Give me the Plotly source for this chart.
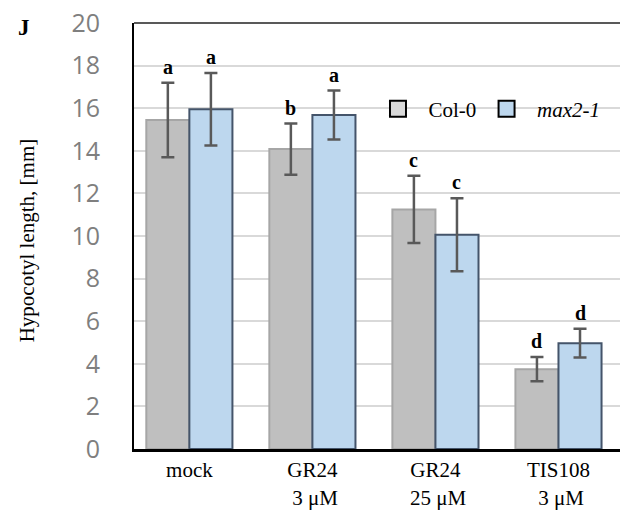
import plotly.graph_objects as go

categories = ["mock", "GR24<br> 3 μM", "GR24<br> 25 μM", "TIS108<br> 3 μM"]
col0_values = [15.45, 14.08, 11.25, 3.75]
col0_err = [1.75, 1.2, 1.58, 0.57]
max2_values = [15.95, 15.68, 10.06, 4.97]
max2_err = [1.7, 1.15, 1.71, 0.68]
col0_letters = ["a", "b", "c", "d"]
max2_letters = ["a", "a", "c", "d"]
y_ticks = [0, 2, 4, 6, 8, 10, 12, 14, 16, 18, 20]

SERIF = "Liberation Serif, Times New Roman, serif"
NB = "\u00a0"
x_idx = list(range(len(categories)))

fig = go.Figure()
fig.add_trace(go.Bar(
    x=x_idx, y=col0_values, name="Col-0", showlegend=False,
    marker=dict(color="#BFBFBF", line=dict(color="#A6A6A6", width=2)),
    error_y=dict(type="data", array=col0_err, color="#595959", thickness=2.5, width=6.5),
))
fig.add_trace(go.Bar(
    x=x_idx, y=max2_values, name="max2-1", showlegend=False,
    marker=dict(color="#BDD7EE", line=dict(color="#44546A", width=2)),
    error_y=dict(type="data", array=max2_err, color="#595959", thickness=2.5, width=6.5),
))
# legend entries
fig.add_trace(go.Scatter(x=[None], y=[None], mode="markers", name=NB * 2 + "Col-0" + NB,
                         marker=dict(symbol="square", size=18, color="#D9D9D9",
                                     line=dict(color="black", width=2))))
fig.add_trace(go.Scatter(x=[None], y=[None], mode="markers", name=NB * 2 + "<i>max2-1</i>",
                         marker=dict(symbol="square", size=18, color="#BDD7EE",
                                     line=dict(color="black", width=2))))

off = 0.175
for i in x_idx:
    fig.add_annotation(x=i - off, y=col0_values[i] + col0_err[i], text="<b>%s</b>" % col0_letters[i],
                       showarrow=False, yanchor="bottom", yshift=3,
                       font=dict(family=SERIF, size=20, color="black"))
    fig.add_annotation(x=i + off, y=max2_values[i] + max2_err[i], text="<b>%s</b>" % max2_letters[i],
                       showarrow=False, yanchor="bottom", yshift=3,
                       font=dict(family=SERIF, size=20, color="black"))

fig.add_annotation(xref="paper", yref="paper", x=-0.22, y=0.49, text="Hypocotyl length, [mm]",
                   textangle=-90, showarrow=False, xanchor="center", yanchor="middle",
                   font=dict(family=SERIF, size=21, color="black"))
fig.add_annotation(xref="paper", yref="paper", x=-0.226, y=0.99, text="<b>J</b>", xanchor="center",
                   yanchor="middle",
                   showarrow=False, font=dict(family=SERIF, size=23, color="black"))

fig.add_shape(type="line", xref="paper", yref="paper", x0=0, x1=1, y0=1, y1=1,
              line=dict(color="#595959", width=2))

fig.update_layout(
    width=620, height=513,
    margin=dict(l=134, r=0, t=23, b=64),
    plot_bgcolor="white", paper_bgcolor="white",
    barmode="group", bargap=0.3, bargroupgap=0,
    legend=dict(orientation="h", x=0.502, y=0.798, xanchor="left", yanchor="middle",
                font=dict(family=SERIF, size=21, color="black"), bgcolor="rgba(0,0,0,0)",
                itemwidth=30),
    xaxis=dict(range=[-0.45, 3.5], tickvals=x_idx, ticktext=categories, showgrid=False,
               showline=True, linecolor="black", linewidth=3, ticks="", automargin=False,
               ticklabeloverflow="allow",
               tickfont=dict(family=SERIF, size=21, color="black"), zeroline=False),
    yaxis=dict(range=[0, 20], tickvals=y_ticks, showgrid=True, gridcolor="#D9D9D9", gridwidth=2,
               showline=True, linecolor="black", linewidth=2, ticks="", zeroline=False,
               ticklabelstandoff=27, automargin=False, ticklabeloverflow="allow",
               tickfont=dict(family="Open Sans, Calibri, sans-serif", size=25, color="#7F7F7F")),
)

fig.write_html("out.html", config={"displayModeBar": False},
               post_script="document.body.style.margin='0';")
